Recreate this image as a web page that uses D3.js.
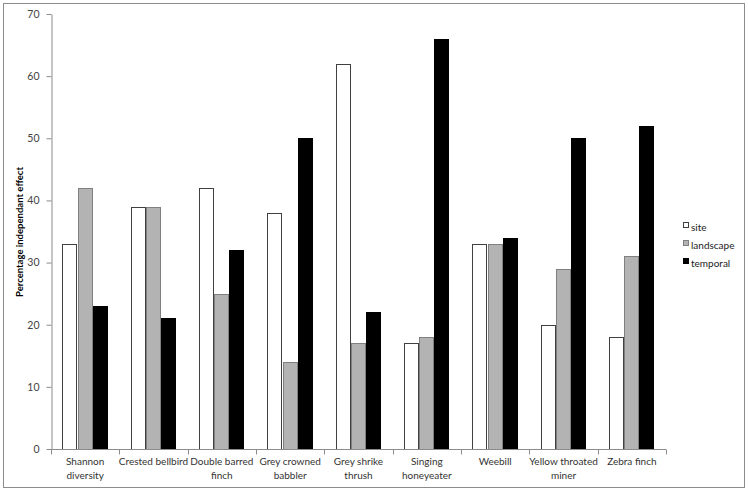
<!DOCTYPE html>
<html><head><meta charset="utf-8">
<script src="https://cdn.jsdelivr.net/npm/d3@7"></script>
<style>body{margin:0;background:#fff}svg{display:block}text{font-family:Lato,"Open Sans",sans-serif}</style>
</head><body>
<svg id="c" width="748" height="491"></svg>
<script>
const categories = [["Shannon","diversity"],["Crested bellbird"],["Double barred","finch"],["Grey crowned","babbler"],["Grey shrike","thrush"],["Singing","honeyeater"],["Weebill"],["Yellow throated","miner"],["Zebra finch"]];
const seriesNames = ["site","landscape","temporal"];
const site = [33,39,42,38,62,17,33,20,18];
const landscape = [42,39,25,14,17,18,33,29,31];
const temporal = [23,21,32,50,22,66,34,50,52];
const yTicks = [0,10,20,30,40,50,60,70];
const values = [site, landscape, temporal];
const fills = ["#ffffff","#b3b3b3","#000000"];
const strokes = ["#404040","#808080","#000000"];

const svg = d3.select("#c");
svg.append("rect").attr("x",3.5).attr("y",3.5).attr("width",741).attr("height",484).attr("fill","#fff").attr("stroke","#8c8c8c");

const pL=51, pR=666, pT=14, pB=449;
const x = d3.scaleBand().domain(d3.range(categories.length)).range([pL,pR]).padding(0);
const xs = d3.scaleBand().domain(d3.range(3)).range([0,x.bandwidth()]).paddingInner(0).paddingOuter(0.75);
const y = d3.scaleLinear().domain([0,70]).range([pB,pT]);

// bars
seriesNames.forEach((s,si)=>{
  svg.append("g").selectAll("rect").data(values[si]).join("rect")
    .attr("x",(d,i)=>Math.round(x(i)+xs(si))+0.5)
    .attr("y",d=>Math.round(y(d))+0.5)
    .attr("width",Math.round(xs.bandwidth())-1)
    .attr("height",d=>Math.round(y(0))-Math.round(y(d)))
    .attr("fill",fills[si]).attr("stroke",strokes[si]).attr("stroke-width",1);
});

// y axis
const ya = svg.append("g").attr("transform",`translate(${pL+0.5},0)`)
  .call(d3.axisLeft(y).tickValues(yTicks).tickSize(5).tickSizeOuter(0).tickFormat(d3.format("d")));
ya.select(".domain").attr("stroke","#8c8c8c");
ya.selectAll(".tick line").attr("stroke","#8c8c8c");
ya.selectAll(".tick text").attr("font-size",10.5).attr("fill","#444").attr("x",-12).attr("font-family","Lato,sans-serif");

// x axis
const xa = svg.append("g").attr("transform",`translate(0,${pB+0.5})`);
xa.append("line").attr("x1",pL).attr("x2",pR).attr("stroke","#8c8c8c");
xa.selectAll("line.t").data(d3.range(categories.length+1)).join("line").attr("class","t")
  .attr("x1",i=>Math.round(pL+i*x.step())+0.5).attr("x2",i=>Math.round(pL+i*x.step())+0.5)
  .attr("y1",0).attr("y2",5).attr("stroke","#8c8c8c");
const lab = svg.append("g").selectAll("text").data(categories).join("text")
  .attr("text-anchor","middle").attr("font-size",10).attr("fill","#333")
  .attr("transform",(d,i)=>`translate(${x(i)+x.bandwidth()/2},${pB+16})`);
lab.selectAll("tspan").data(d=>d).join("tspan").attr("x",0).attr("dy",(d,j)=>j===0?0:14).text(d=>d);

// y title
svg.append("text").attr("transform","translate(23,232) rotate(-90)").attr("text-anchor","middle")
  .attr("font-size",9.5).attr("font-weight","bold").attr("fill","#000")
  .attr("textLength",130).attr("lengthAdjust","spacingAndGlyphs").text("Percentage independant effect");

// legend
const lg = svg.append("g").selectAll("g").data(seriesNames).join("g")
  .attr("transform",(d,i)=>`translate(683,${227+i*18})`);
lg.append("rect").attr("x",0.5).attr("y",-4.5).attr("width",5).attr("height",5)
  .attr("fill",(d,i)=>fills[i]).attr("stroke",(d,i)=>strokes[i]);
lg.append("text").attr("x",8).attr("y",0).attr("dy","0.35em").attr("font-size",10).attr("fill","#222").text(d=>d);
</script>
</body></html>
